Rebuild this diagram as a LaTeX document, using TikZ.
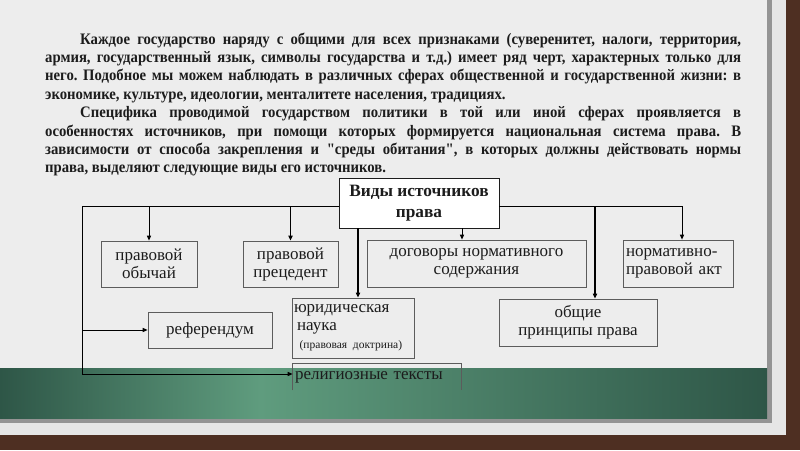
\documentclass[tikz,border=0pt]{standalone}
\usepackage{fontspec}
\setmainfont{Liberation Serif}
\newfontfamily\slidefont[FakeStretch=0.92]{Liberation Serif}
\usetikzlibrary{arrows.meta}
\definecolor{slbrick}{HTML}{4E2F22}
\definecolor{slpaper}{HTML}{E6E6E6}
\definecolor{slshadow}{HTML}{949494}
\definecolor{slpanel}{HTML}{EDEDED}
\definecolor{slgreenD}{HTML}{2E5647}
\definecolor{slgreenL}{HTML}{5F9C7E}
\definecolor{slink}{HTML}{1C1C1C}
\definecolor{slframe}{HTML}{5C5C5C}

\begin{document}
\begin{tikzpicture}[
  x=1pt, y=-1pt,
  kind/.style     = {rectangle, draw=slframe, line width=0.8pt, inner sep=2pt,
                     align=center, font=\fontsize{17}{18}\selectfont, text=slink},
  head/.style     = {kind, fill=white, draw=slink, line width=0.9pt,
                     font=\bfseries\fontsize{17.3}{21}\selectfont},
  flow/.style     = {-{Triangle[length=5pt,width=4.2pt]}, draw=black,
                     line width=0.9pt},
  flowbold/.style = {flow, line width=1.7pt},
  para/.style     = {anchor=north west, inner sep=0pt, text width=696pt,
                     align=justify, text=slink,
                     font=\slidefont\bfseries\fontsize{16}{18.4}\selectfont},
]
\useasboundingbox (0,0) rectangle (800,450);
\fill[slbrick] (0,0) rectangle (800,450);
\fill[slpaper] (0,0) rectangle (786,435);
\fill[slshadow] (0,0) rectangle (772,423);
\fill[slpanel] (0,0) rectangle (767,418);
\shade[left color=slgreenD, right color=slgreenL] (0,368) rectangle (260,418);
\shade[left color=slgreenL, right color=slgreenD] (260,368) rectangle (767,418);

\node[para] (intro) at (45,32.5) {\setlength{\parindent}{0pt}\frenchspacing
\hspace*{35pt}Каждое государство наряду с общими для всех признаками (суверенитет, налоги, территория,\linebreak
армия, государственный язык, символы государства и т.д.) имеет ряд черт, характерных только для\linebreak
него. Подобное мы можем наблюдать в различных сферах общественной и государственной жизни: в\linebreak
экономике, культуре, идеологии, менталитете населения, традициях.\par
\hspace*{35pt}Специфика проводимой государством политики в той или иной сферах проявляется в\linebreak
особенностях источников, при помощи которых формируется национальная система права. В\linebreak
зависимости от способа закрепления и "среды обитания", в которых должны действовать нормы\linebreak
права, выделяют следующие виды его источников.};

\node[head, minimum width=160pt, minimum height=50pt] (title) at (419,203) {Виды источников\\права};
\node[kind, minimum width=96pt, minimum height=46pt] (custom) at (149,264) {правовой\\обычай};
\node[kind, minimum width=95pt, minimum height=46pt] (prec) at (290.5,264) {правовой\\прецедент};
\node[kind, minimum width=219pt, minimum height=47pt] (treaty) at (476.5,263.5) {договоры нормативного\\содержания};
\node[kind, text width=104pt, align=left, inner xsep=3pt, minimum height=47pt] (act) at (678,263.5) {нормативно-\\правовой акт};
\node[kind, text width=118pt, align=left, minimum height=60pt] (doctrine) at (353,328)
  {юридическая\\\hspace*{3pt}наука\\{\fontsize{11.5}{13}\selectfont\ (правовая доктрина)}};
\node[kind, minimum width=124pt, minimum height=36pt] (vote) at (210,330) {референдум};
\node[kind, minimum width=158pt, minimum height=47pt] (principles) at (578,322.5) {общие\\принципы права};
\node[kind, draw=none, text width=164pt, align=left, minimum height=26pt] (relig) at (377,377) {религиозные тексты};
\draw[slframe, line width=0.8pt] (relig.south west) |- (relig.north east) -- (relig.south east);

\coordinate (lspine) at ([yshift=-3pt]title.west);
\coordinate (rspine) at ([yshift=-3pt]title.east);
\coordinate (rail) at (82,206);
\coordinate (sciencedrop) at ([xshift=-61pt]title.south);
\coordinate (treatydrop) at ([xshift=43pt]title.south);
\coordinate (principdrop) at ([xshift=17pt]principles.north);
\coordinate (actdrop) at ([xshift=4pt]act.north);

\draw[flow] (lspine) -| (custom.north);
\draw[flow] (lspine) -| (rail |- vote.west) -- (vote.west);
\draw[flow] (rail |- vote.west) |- ([yshift=3pt]relig.west);
\draw[flowbold] (lspine -| prec.north) -- (prec.north);
\draw[flowbold] (sciencedrop) -- (sciencedrop |- doctrine.north);
\draw[flow] (treatydrop) -- (treatydrop |- treaty.north);
\draw[flow] (rspine) -| (actdrop);
\draw[flowbold] (principdrop |- rspine) -- (principdrop);
\end{tikzpicture}
\end{document}
